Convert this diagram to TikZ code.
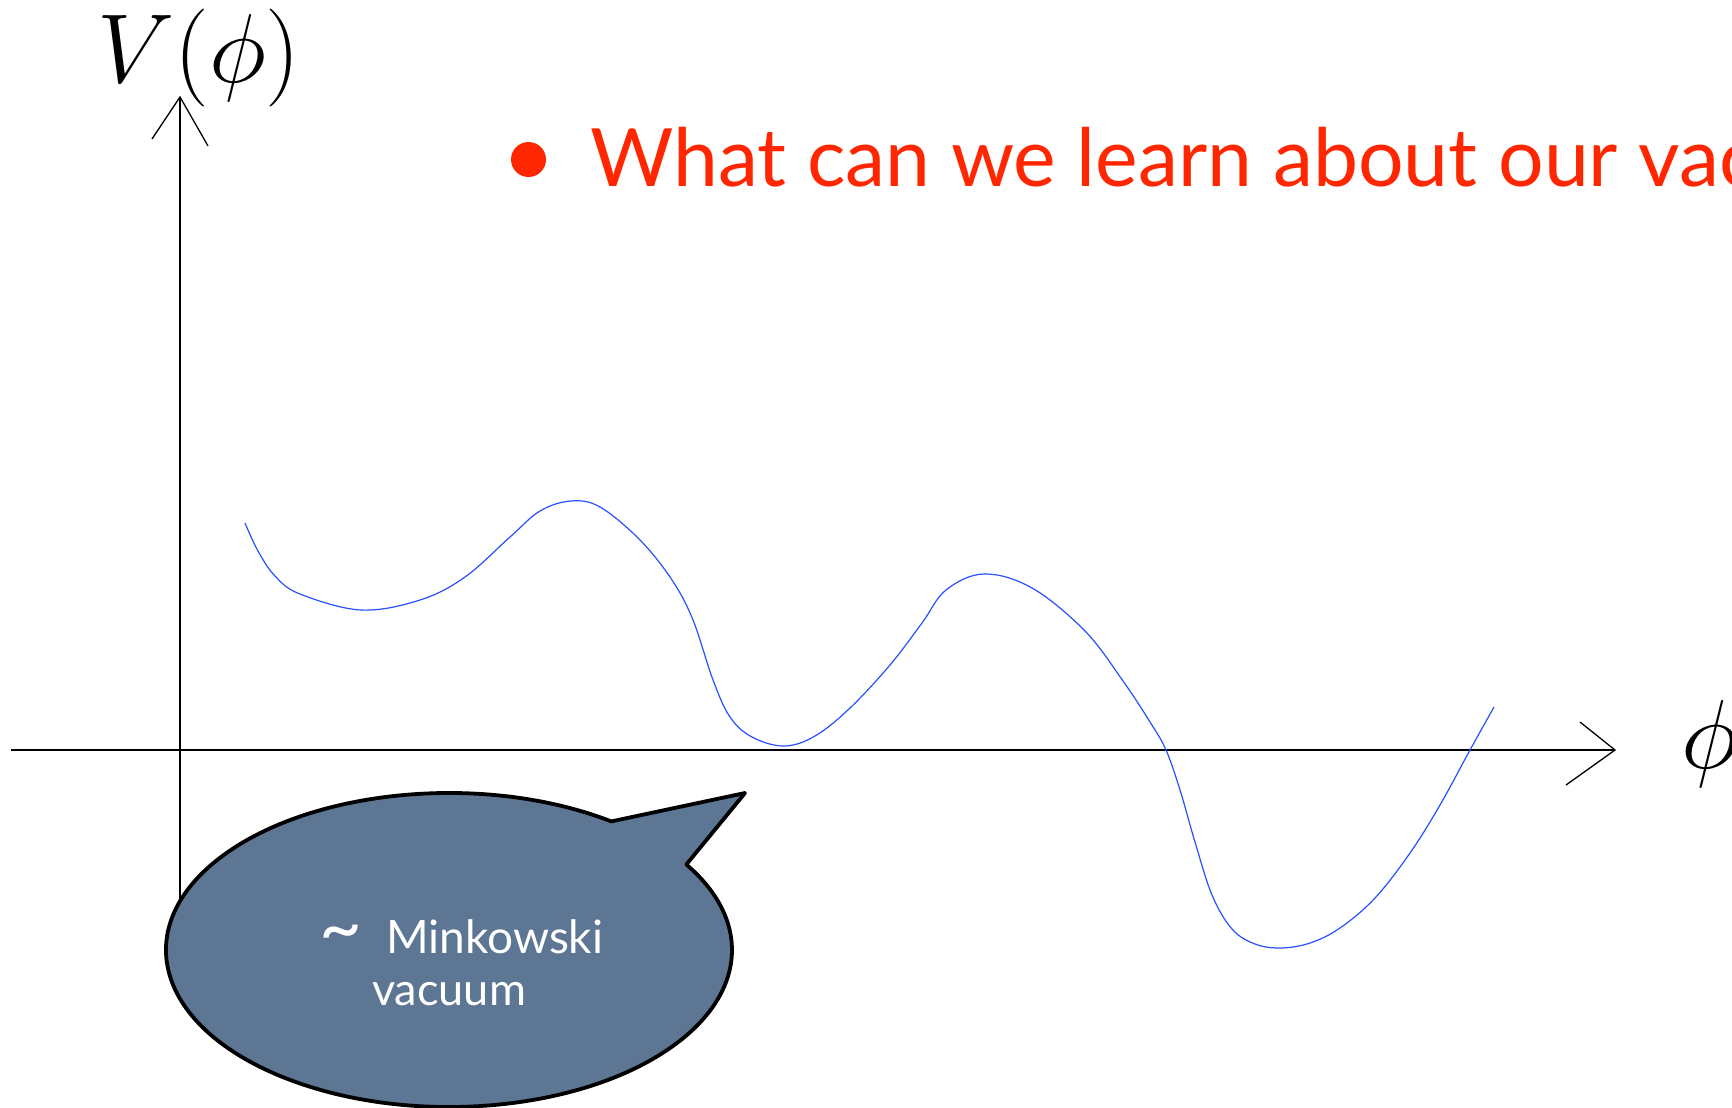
\RequirePackage{fix-cm}
\documentclass[tikz,border=0pt]{standalone}
\usepackage{fontspec}
\setsansfont{Lato}
\usetikzlibrary{calc}
\definecolor{titlered}{RGB}{255,38,0}
\definecolor{potblue}{RGB}{40,80,255}
\definecolor{balloonfill}{RGB}{92,118,148}
\begin{document}
\begin{tikzpicture}[x=1pt,y=-1pt,
  axisline/.style={line width=1.3pt, draw=black},
  potcurve/.style={line width=1.2pt, draw=potblue},
  balloonshape/.style={fill=balloonfill, draw=black, line width=3.8pt, line join=round},
  mathlabel/.style={anchor=base west, inner sep=0pt, font=\fontsize{98}{102}\selectfont},
  balloontext/.style={anchor=base west, inner sep=0pt, text=white, font=\sffamily\fontsize{45}{52}\selectfont},
]
\useasboundingbox (0,0) rectangle (1732,1108);
\fill[white] (0,0) rectangle (1732,1108);

% axes
\coordinate (ytip) at (180,97);
\coordinate (ybot) at (180,950);
\coordinate (xleft) at (11,750);
\coordinate (xtip) at (1615,750);
\coordinate (yarmL) at (152,139);
\coordinate (yarmR) at (208,146);
\coordinate (xarmU) at (1580,722);
\coordinate (xarmD) at (1566,785);
\draw[axisline] (ybot) -- (ytip);
\draw[axisline] (xleft) -- (xtip);
\draw[axisline] (yarmL) -- (ytip) -- (yarmR);
\draw[axisline] (xarmU) -- (xtip) -- (xarmD);

% axis labels
\node[mathlabel] (Vlab) at (97,82) {$V(\phi)$};
\node[mathlabel] (philab) at (1681,768) {$\phi$};

% potential
\draw[potcurve] plot[smooth, tension=0.6] coordinates {(245,523) (258,551) (275,576) (300,594) (361,610) (420,600) (465,577) (510,537) (540,511) (571,501) (600,507) (640,540) (672,580) (693,620) (713,680) (730,717) (752,737) (784,746) (815,736) (850,708) (890,665) (922,623) (946,590) (984,574) (1032,588) (1085,631) (1123,681) (1150,722) (1166,750) (1180,790) (1195,842) (1212,895) (1232,929) (1255,944) (1281,948) (1310,943) (1340,928) (1375,898) (1410,853) (1440,805) (1470,750) (1494,707)};

% title
\node[circle, fill=titlered, minimum size=35pt, inner sep=0pt] (bullet) at (528.5,159.5) {};
\node[anchor=base west, inner sep=0pt, text=titlered, font=\sffamily\fontsize{80.5}{90}\selectfont] (title) at (590,186) {What can we learn about our vac};

% speech balloon
\coordinate (bc) at (449,950);
\coordinate (btip) at (745,793);
\filldraw[balloonshape] ($(bc)+(55:283pt and 157pt)$) arc[start angle=55, end angle=393, x radius=283pt, y radius=157pt] -- (btip) -- cycle;
\node[balloontext] (btext1) at (319,953) {{\fontsize{74}{74}\selectfont\textasciitilde}\hspace{24pt}{\fontsize{46}{52}\selectfont Minkowski}};
\node[balloontext] (btext2) at (372,1005) {vacuum};
\end{tikzpicture}
\end{document}
